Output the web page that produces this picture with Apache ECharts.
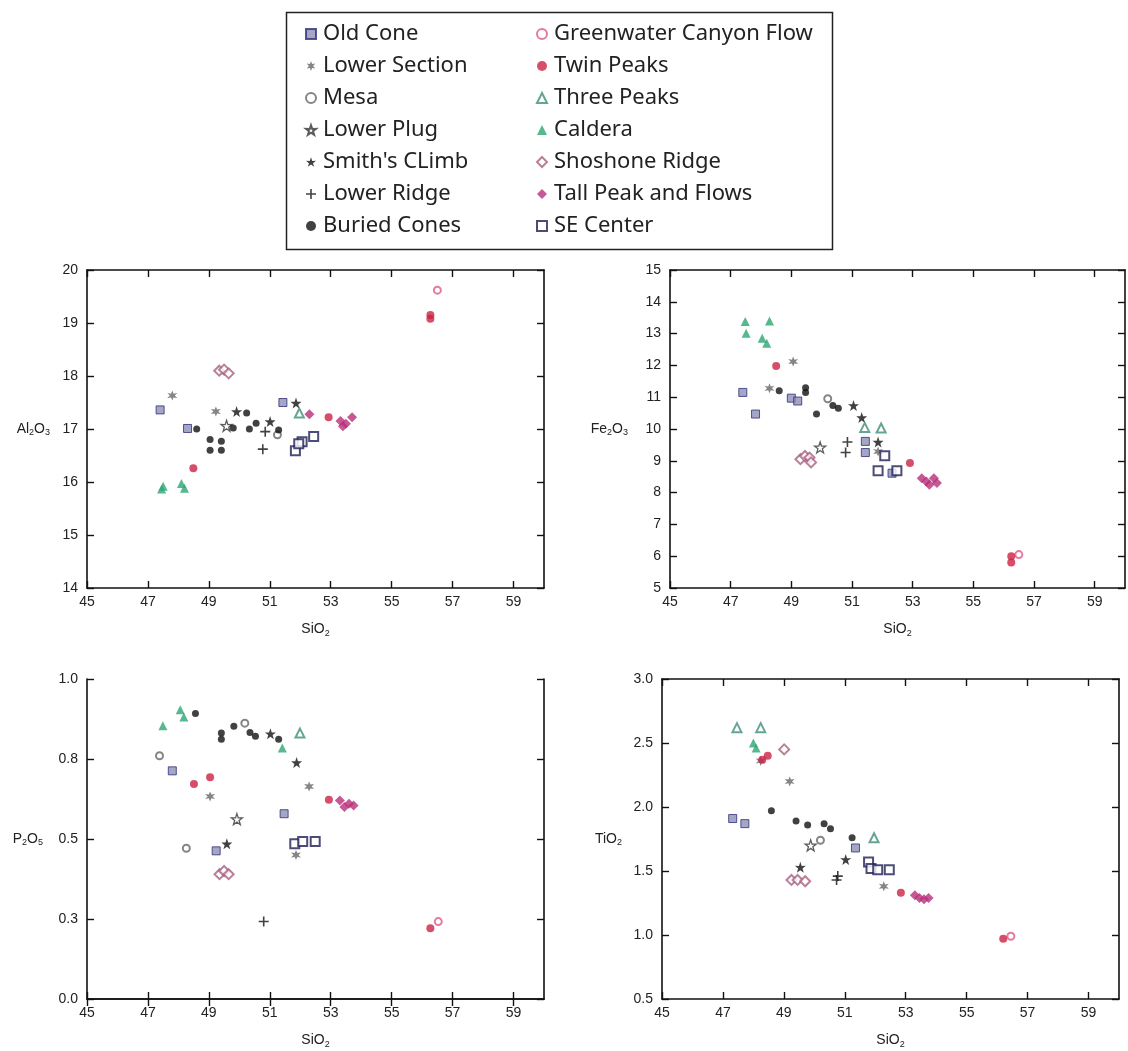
<!DOCTYPE html>
<html>
<head>
<meta charset="utf-8">
<script src="https://cdn.jsdelivr.net/npm/echarts@6/dist/echarts.min.js"></script>
<style>
html,body{margin:0;padding:0;background:#fff;}
#chart{width:1128px;height:1051px;}
</style>
</head>
<body>
<div id="chart"></div>
<script>
// ---------- DATA ----------
const SERIES_NAMES = ['Old Cone', 'Lower Section', 'Mesa', 'Lower Plug', "Smith's CLimb", 'Lower Ridge', 'Buried Cones',
  'Greenwater Canyon Flow', 'Twin Peaks', 'Three Peaks', 'Caldera', 'Shoshone Ridge', 'Tall Peak and Flows', 'SE Center'];

const SIO2_TICKS = [45, 47, 49, 51, 53, 55, 57, 59];

// rows: [group, SiO2, Al2O3]
const AL2O3_POINTS = [
  ['Old Cone', 47.4, 17.36], ['Old Cone', 48.3, 17.01], ['Old Cone', 51.43, 17.5],
  ['Lower Section', 47.8, 17.63], ['Lower Section', 49.23, 17.33],
  ['Mesa', 51.25, 16.89],
  ['Lower Plug', 49.58, 17.06],
  ["Smith's CLimb", 49.91, 17.33], ["Smith's CLimb", 51.01, 17.14], ["Smith's CLimb", 51.86, 17.49],
  ['Lower Ridge', 50.85, 16.95], ['Lower Ridge', 50.77, 16.62],
  ['Buried Cones', 48.6, 17.0], ['Buried Cones', 49.04, 16.8], ['Buried Cones', 49.41, 16.77], ['Buried Cones', 49.04, 16.6],
  ['Buried Cones', 49.41, 16.6], ['Buried Cones', 49.8, 17.02], ['Buried Cones', 50.24, 17.3], ['Buried Cones', 50.33, 17.0],
  ['Buried Cones', 50.55, 17.11], ['Buried Cones', 51.29, 16.98],
  ['Greenwater Canyon Flow', 56.5, 19.62],
  ['Twin Peaks', 56.27, 19.15], ['Twin Peaks', 56.27, 19.08], ['Twin Peaks', 48.49, 16.26], ['Twin Peaks', 52.93, 17.22],
  ['Three Peaks', 51.97, 17.3],
  ['Caldera', 47.45, 15.87], ['Caldera', 47.5, 15.92], ['Caldera', 48.1, 15.97], ['Caldera', 48.2, 15.88],
  ['Shoshone Ridge', 49.34, 18.1], ['Shoshone Ridge', 49.5, 18.12], ['Shoshone Ridge', 49.65, 18.05],
  ['Tall Peak and Flows', 52.3, 17.28], ['Tall Peak and Flows', 53.32, 17.15], ['Tall Peak and Flows', 53.4, 17.05],
  ['Tall Peak and Flows', 53.5, 17.1], ['Tall Peak and Flows', 53.7, 17.22],
  ['SE Center', 52.44, 16.86], ['SE Center', 52.06, 16.76], ['SE Center', 51.84, 16.59], ['SE Center', 51.95, 16.72]
];

// rows: [group, SiO2, Fe2O3]
const FE2O3_POINTS = [
  ['Old Cone', 47.4, 11.15], ['Old Cone', 47.82, 10.47], ['Old Cone', 49.0, 10.97], ['Old Cone', 49.21, 10.88],
  ['Old Cone', 51.44, 9.61], ['Old Cone', 51.44, 9.26], ['Old Cone', 52.32, 8.61],
  ['Lower Section', 48.28, 11.28], ['Lower Section', 49.06, 12.12], ['Lower Section', 51.86, 9.29],
  ['Mesa', 50.2, 10.95],
  ['Lower Plug', 49.95, 9.42],
  ["Smith's CLimb", 51.05, 10.74], ["Smith's CLimb", 51.86, 9.59], ["Smith's CLimb", 51.32, 10.36],
  ['Lower Ridge', 50.85, 9.59], ['Lower Ridge', 50.79, 9.26],
  ['Buried Cones', 48.6, 11.2], ['Buried Cones', 49.47, 11.3], ['Buried Cones', 49.47, 11.15], ['Buried Cones', 49.83, 10.47],
  ['Buried Cones', 50.37, 10.74], ['Buried Cones', 50.55, 10.65],
  ['Greenwater Canyon Flow', 56.5, 6.05],
  ['Twin Peaks', 48.5, 11.98], ['Twin Peaks', 52.91, 8.93], ['Twin Peaks', 56.25, 6.0], ['Twin Peaks', 56.25, 5.8],
  ['Three Peaks', 51.42, 10.05], ['Three Peaks', 51.96, 10.03],
  ['Caldera', 47.48, 13.38], ['Caldera', 47.51, 13.01], ['Caldera', 48.28, 13.4], ['Caldera', 48.04, 12.85], ['Caldera', 48.19, 12.7],
  ['Shoshone Ridge', 49.3, 9.05], ['Shoshone Ridge', 49.45, 9.15], ['Shoshone Ridge', 49.6, 9.1], ['Shoshone Ridge', 49.65, 8.95],
  ['Tall Peak and Flows', 53.3, 8.45], ['Tall Peak and Flows', 53.45, 8.35], ['Tall Peak and Flows', 53.55, 8.25],
  ['Tall Peak and Flows', 53.7, 8.45], ['Tall Peak and Flows', 53.8, 8.3],
  ['SE Center', 52.08, 9.16], ['SE Center', 51.86, 8.69], ['SE Center', 52.48, 8.69]
];

// rows: [group, SiO2, P2O5]
const P2O5_POINTS = [
  ['Old Cone', 47.8, 0.713], ['Old Cone', 51.47, 0.579], ['Old Cone', 49.24, 0.463],
  ['Lower Section', 51.86, 0.45], ['Lower Section', 49.04, 0.633], ['Lower Section', 52.29, 0.664],
  ['Mesa', 47.38, 0.76], ['Mesa', 50.18, 0.862], ['Mesa', 48.26, 0.471],
  ['Lower Plug', 49.92, 0.562],
  ["Smith's CLimb", 51.02, 0.829], ["Smith's CLimb", 51.88, 0.739], ["Smith's CLimb", 49.59, 0.485],
  ['Lower Ridge', 50.8, 0.242],
  ['Buried Cones', 48.56, 0.892], ['Buried Cones', 49.41, 0.831], ['Buried Cones', 49.41, 0.812], ['Buried Cones', 49.82, 0.852],
  ['Buried Cones', 50.35, 0.833], ['Buried Cones', 50.53, 0.821], ['Buried Cones', 51.29, 0.812],
  ['Greenwater Canyon Flow', 56.53, 0.242],
  ['Twin Peaks', 48.51, 0.672], ['Twin Peaks', 49.04, 0.693], ['Twin Peaks', 52.94, 0.623], ['Twin Peaks', 56.27, 0.221],
  ['Three Peaks', 51.99, 0.831],
  ['Caldera', 47.49, 0.854], ['Caldera', 48.06, 0.904], ['Caldera', 48.18, 0.881], ['Caldera', 51.41, 0.784],
  ['Shoshone Ridge', 49.35, 0.39], ['Shoshone Ridge', 49.5, 0.40], ['Shoshone Ridge', 49.65, 0.39],
  ['Tall Peak and Flows', 53.3, 0.62], ['Tall Peak and Flows', 53.45, 0.60], ['Tall Peak and Flows', 53.6, 0.61],
  ['Tall Peak and Flows', 53.75, 0.605],
  ['SE Center', 51.82, 0.485], ['SE Center', 52.08, 0.492], ['SE Center', 52.49, 0.492]
];

// rows: [group, SiO2, TiO2]
const TIO2_POINTS = [
  ['Old Cone', 47.32, 1.91], ['Old Cone', 47.72, 1.87], ['Old Cone', 51.35, 1.68],
  ['Lower Section', 49.19, 2.2], ['Lower Section', 48.24, 2.36], ['Lower Section', 52.28, 1.38],
  ['Mesa', 50.2, 1.74],
  ['Lower Plug', 49.88, 1.70],
  ["Smith's CLimb", 49.54, 1.53], ["Smith's CLimb", 51.03, 1.59],
  ['Lower Ridge', 50.77, 1.46], ['Lower Ridge', 50.73, 1.43],
  ['Buried Cones', 48.59, 1.97], ['Buried Cones', 49.4, 1.89], ['Buried Cones', 49.78, 1.86], ['Buried Cones', 50.32, 1.87],
  ['Buried Cones', 50.53, 1.83], ['Buried Cones', 51.24, 1.76],
  ['Greenwater Canyon Flow', 56.45, 0.99],
  ['Twin Peaks', 48.29, 2.37], ['Twin Peaks', 48.47, 2.40], ['Twin Peaks', 52.84, 1.33], ['Twin Peaks', 56.2, 0.97],
  ['Three Peaks', 47.46, 2.62], ['Three Peaks', 48.24, 2.62], ['Three Peaks', 51.96, 1.76],
  ['Caldera', 48.0, 2.5], ['Caldera', 48.09, 2.46],
  ['Shoshone Ridge', 49.25, 1.43], ['Shoshone Ridge', 49.45, 1.43], ['Shoshone Ridge', 49.7, 1.42], ['Shoshone Ridge', 49.01, 2.45],
  ['Tall Peak and Flows', 53.3, 1.31], ['Tall Peak and Flows', 53.45, 1.29], ['Tall Peak and Flows', 53.6, 1.28],
  ['Tall Peak and Flows', 53.75, 1.29],
  ['SE Center', 51.78, 1.57], ['SE Center', 51.86, 1.52], ['SE Center', 52.08, 1.51], ['SE Center', 52.46, 1.51]
];

// ---------- STYLE ----------
const STAR = 'path://M50,0 L61.8,35.1 L97.6,34.5 L69.1,56.7 L79.4,90.5 L50,70 L20.6,90.5 L30.9,56.7 L2.4,34.5 L38.2,35.1 Z';
const ASTER = 'path://M50,0 L61,31 L93,25 L71,50 L93,75 L61,69 L50,100 L39,69 L7,75 L29,50 L7,25 L39,31 Z';
const PLUS = 'path://M42,0 H58 V42 H100 V58 H58 V100 H42 V58 H0 V42 H42 Z';

const STYLE = {
  'Old Cone': {symbol: 'rect', size: 8, itemStyle: {color: '#8f8fb8', borderColor: '#2e2e7a', borderWidth: 1}},
  'Lower Section': {symbol: ASTER, size: 10, itemStyle: {color: '#666'}},
  'Mesa': {symbol: 'emptyCircle', size: 7, itemStyle: {color: '#666'}},
  'Lower Plug': {symbol: STAR, size: 11, itemStyle: {color: '#fff', borderColor: '#333', borderWidth: 1.3}},
  "Smith's CLimb": {symbol: STAR, size: 11, itemStyle: {color: '#111'}},
  'Lower Ridge': {symbol: PLUS, size: 10, itemStyle: {color: '#111'}},
  'Buried Cones': {symbol: 'circle', size: 7, itemStyle: {color: '#111'}},
  'Greenwater Canyon Flow': {symbol: 'emptyCircle', size: 7, itemStyle: {color: '#e0588a'}},
  'Twin Peaks': {symbol: 'circle', size: 8, itemStyle: {color: '#cc2244'}},
  'Three Peaks': {symbol: 'emptyTriangle', size: 9, itemStyle: {color: '#3f8f7c'}},
  'Caldera': {symbol: 'triangle', size: 9, itemStyle: {color: '#2aa673'}},
  'Shoshone Ridge': {symbol: 'emptyDiamond', size: 10, itemStyle: {color: '#a8607f'}},
  'Tall Peak and Flows': {symbol: 'diamond', size: 10, itemStyle: {color: '#b8307a'}},
  'SE Center': {symbol: 'emptyRect', size: 9, itemStyle: {color: '#1f1f55'}}
};

const FONT = 'Liberation Sans';
const TXT = '#222';
const PLOTS = [
  {points: AL2O3_POINTS, grid: {left: 87, top: 270, width: 457, height: 318}, min: 14, max: 20, interval: 1, dec: 0, name: ['Al', '2', 'O', '3'], gap: 37},
  {points: FE2O3_POINTS, grid: {left: 670, top: 270, width: 455, height: 318}, min: 5, max: 15, interval: 1, dec: 0, name: ['Fe', '2', 'O', '3'], gap: 42},
  {points: P2O5_POINTS, grid: {left: 87, top: 679, width: 457, height: 320}, min: 0, max: 1, interval: 0.25, dec: 1, name: ['P', '2', 'O', '5'], gap: 44},
  {points: TIO2_POINTS, grid: {left: 662, top: 679, width: 457, height: 320}, min: 0.5, max: 3, interval: 0.5, dec: 1, name: ['TiO', '2', '', ''], gap: 40}
];

const rich = {
  a: {fontSize: 14, fontFamily: FONT, color: TXT},
  b: {fontSize: 9, fontFamily: FONT, color: TXT, padding: [8, 0, 0, 0]}
};
function chem(parts) {
  let s = '';
  for (let i = 0; i < parts.length; i += 2) {
    if (parts[i]) s += '{a|' + parts[i] + '}';
    if (parts[i + 1]) s += '{b|' + parts[i + 1] + '}';
  }
  return s;
}

const grids = [], xAxes = [], yAxes = [], series = [];
const lineStyle = {color: '#111', width: 1.6};
PLOTS.forEach((p, gi) => {
  grids.push(Object.assign({containLabel: false}, p.grid));
  xAxes.push({
    type: 'value', gridIndex: gi, min: 45, max: 60, position: 'bottom',
    name: chem(['SiO', '2']), nameLocation: 'middle', nameGap: 33, nameTextStyle: {rich},
    axisLine: {show: true, lineStyle}, splitLine: {show: false},
    axisTick: {show: true, inside: true, length: 7, lineStyle: {color: '#111', width: 1.4}, customValues: SIO2_TICKS},
    axisLabel: {fontSize: 14, fontFamily: FONT, color: TXT, margin: 7, customValues: SIO2_TICKS}
  });
  xAxes.push({
    type: 'value', gridIndex: gi, min: 45, max: 60, position: 'top',
    axisLine: {show: true, lineStyle}, splitLine: {show: false},
    axisTick: {show: true, inside: true, length: 7, lineStyle: {color: '#111', width: 1.4}, customValues: SIO2_TICKS},
    axisLabel: {show: false}
  });
  yAxes.push({
    type: 'value', gridIndex: gi, min: p.min, max: p.max, interval: p.interval, position: 'left',
    name: chem(p.name), nameLocation: 'middle', nameRotate: 0, nameGap: p.gap, nameTextStyle: {rich, align: 'right'},
    axisLine: {show: true, lineStyle}, splitLine: {show: false},
    axisTick: {show: true, inside: true, length: 7, lineStyle: {color: '#111', width: 1.4}},
    axisLabel: {fontSize: 14, fontFamily: FONT, color: TXT, margin: 9, formatter: v => v.toFixed(p.dec)}
  });
  yAxes.push({
    type: 'value', gridIndex: gi, min: p.min, max: p.max, interval: p.interval, position: 'right',
    axisLine: {show: true, lineStyle}, splitLine: {show: false},
    axisTick: {show: true, inside: true, length: 7, lineStyle: {color: '#111', width: 1.4}},
    axisLabel: {show: false}
  });
  SERIES_NAMES.forEach(name => {
    const st = STYLE[name];
    series.push({
      type: 'scatter', name, xAxisIndex: gi * 2, yAxisIndex: gi * 2,
      symbol: st.symbol, symbolSize: st.size, itemStyle: st.itemStyle,
      data: p.points.filter(r => r[0] === name).map(r => [r[1], r[2]]),
      emphasis: {disabled: true}
    });
  });
});

const legendCommon = {
  orient: 'vertical', top: 18, itemWidth: 10, itemHeight: 10, itemGap: 10, selectedMode: false,
  textStyle: {fontSize: 22, lineHeight: 22, fontFamily: 'Noto Sans', color: TXT, padding: [0, 0, 0, 2]}
};

const option = {
  animation: false,
  backgroundColor: '#fff',
  grid: grids, xAxis: xAxes, yAxis: yAxes, series,
  legend: [
    Object.assign({left: 300, data: SERIES_NAMES.slice(0, 7)}, legendCommon),
    Object.assign({left: 531, data: SERIES_NAMES.slice(7)}, legendCommon)
  ],
  graphic: [{type: 'rect', left: 284, top: 10, shape: {width: 546, height: 237}, style: {fill: 'none', stroke: '#222', lineWidth: 1.5}}]
};

const chart = echarts.init(document.getElementById('chart'), null, {renderer: 'canvas'});
chart.setOption(option);
</script>
</body>
</html>
